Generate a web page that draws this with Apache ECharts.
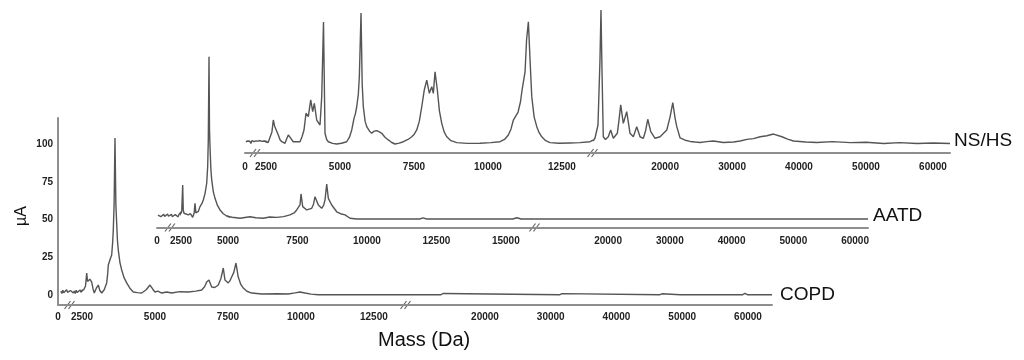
<!DOCTYPE html>
<html><head><meta charset="utf-8">
<script src="https://cdn.jsdelivr.net/npm/echarts@6.0.0/dist/echarts.min.js"></script>
<style>html,body{margin:0;padding:0;background:#fff}#c{width:1024px;height:360px}</style>
</head><body><div id="c"></div>
<script>
// ---- data: [mass (Da), intensity (µA)] ----
const copdLow = [[300,2.5],[400,1.0],[500,3.2],[600,1.5],[700,2.8],[800,0.9],[900,3.5],[1000,1.8],[1100,2.6],[1200,1.1],[1300,3.0],[1400,2.0],[1500,3.4],[1600,1.3],[1700,2.7],[1800,1.0],[1900,3.1],[2000,1.6],[2100,2.9],[2200,1.2],[2300,3.3],[2400,1.8],[2480,2.6],[2560,3.5],[2620,6.0],[2661,14.6],[2690,9.0],[2716,8.0],[2770,10.5],[2832,8.6],[2880,4.0],[2921,1.3],[2990,4.5],[3058,6.6],[3110,3.0],[3175,1.3],[3260,3.5],[3346,8.0],[3380,14.0],[3401,19.9],[3470,24.0],[3517,26.5],[3550,35.0],[3572,43.1],[3600,60.0],[3630,104.1],[3660,60.0],[3688,47.7],[3715,36.0],[3743,29.8],[3800,21.5],[3860,16.6],[3940,11.5],[4031,8.0],[4140,4.5],[4257,2.0],[4400,1.6],[4545,1.3],[4700,3.5],[4829,6.6],[4920,4.0],[5000,2.0],[5100,2.6],[5230,1.3],[5400,2.0],[5572,1.3],[5850,2.2],[6141,2.0],[6400,2.6],[6600,3.3],[6700,5.5],[6771,8.6],[6850,9.9],[6942,5.3],[7050,5.0],[7168,6.6],[7260,11.0],[7340,17.9],[7398,9.9],[7511,8.0],[7570,9.5],[7627,11.9],[7700,15.0],[7775,21.2],[7853,11.9],[7940,7.0],[8025,4.6],[8150,2.5],[8312,1.3],[8655,0.7],[9200,0.8],[9566,0.7],[9800,1.4],[9967,2.0],[10138,1.3],[10350,0.6],[10594,0.2],[13600,0.2]];
const copdHigh = [[7980,0.2],[13300,0.2],[13612,1.0],[13900,0.2],[31400,0.2],[31712,0.9],[32000,0.2],[46600,0.2],[46922,0.8],[47200,0.2],[49700,0.2],[49964,0.8],[50300,0.2],[59200,0.2],[59546,1.0],[59900,0.2],[63650,0.2]];
const aatdLow = [[100,2.5],[200,1.2],[300,3.0],[400,1.5],[500,2.8],[600,0.9],[700,3.2],[800,1.6],[900,2.7],[1000,1.0],[1100,3.3],[1200,1.8],[1300,2.9],[1400,1.2],[1500,3.1],[1600,1.5],[1700,2.6],[1800,1.0],[1900,3.0],[2000,1.7],[2100,2.9],[2200,1.4],[2300,3.2],[2400,2.0],[2537,4.8],[2590,22.5],[2620,6.0],[2660,3.8],[2760,5.0],[2888,2.7],[3000,3.5],[3122,1.1],[3200,4.0],[3245,10.4],[3290,4.0],[3335,2.7],[3420,5.0],[3511,8.2],[3600,10.0],[3686,12.6],[3780,17.0],[3867,23.7],[3920,35.0],[3952,52.4],[3990,107.6],[4015,60.0],[4043,47.9],[4090,33.0],[4133,25.9],[4220,18.0],[4309,13.7],[4440,9.0],[4575,6.0],[4750,3.5],[4931,2.0],[5150,1.2],[5432,0.5],[5792,1.5],[6000,0.8],[6271,0.5],[6500,1.3],[6753,1.1],[7000,1.6],[7232,2.7],[7380,4.0],[7473,6.0],[7592,9.3],[7628,16.6],[7689,8.2],[7833,6.0],[8013,7.1],[8080,10.0],[8132,14.8],[8251,9.3],[8373,7.1],[8440,9.0],[8492,12.6],[8553,23.2],[8611,13.7],[8733,9.3],[8913,4.8],[9050,3.5],[9212,2.7],[9392,0.5],[9633,0],[11900,0],[12020,0.7],[12150,0],[15250,0],[15400,0.8],[15550,0],[16050,0]];
const aatdHigh = [[8167,0],[12700,0],[12870,0.6],[13050,0],[23700,0],[23890,0.6],[24100,0],[39700,0],[39940,0.6],[40200,0],[62100,0]];
const nshsLow = [[100,1.5],[220,0.5],[340,2.0],[460,0.8],[580,1.8],[700,0.4],[820,2.2],[940,1.0],[1060,1.6],[1180,0.5],[1300,2.1],[1420,0.9],[1540,1.9],[1660,0.6],[1780,2.3],[1900,1.0],[2020,1.7],[2140,0.5],[2260,2.0],[2380,0.8],[2500,1.8],[2570,0.9],[2635,1.5],[2700,8.0],[2747,15.9],[2790,12.0],[2838,11.1],[2916,6.0],[2970,3.0],[3031,1.5],[3142,0.5],[3200,3.5],[3254,6.0],[3310,4.5],[3369,3.8],[3420,1.5],[3480,0.5],[3649,1.5],[3720,5.0],[3784,9.3],[3852,20.4],[3930,18.1],[4011,29.2],[4078,21.4],[4133,27.0],[4214,15.9],[4325,12.6],[4383,31.4],[4443,80.9],[4494,7.1],[4550,3.0],[4606,1.5],[4750,0.4],[4890,0],[5050,0.5],[5228,1.5],[5320,4.5],[5397,9.3],[5474,17.0],[5520,20.0],[5566,24.7],[5620,33.0],[5654,44.6],[5711,86.9],[5750,40.0],[5789,24.7],[5850,15.0],[5904,11.5],[6000,8.5],[6073,7.1],[6150,8.5],[6242,8.8],[6330,8.0],[6411,7.1],[6520,4.5],[6634,2.7],[6750,1.0],[6860,0],[7000,0.6],[7141,1.5],[7300,3.0],[7425,4.8],[7510,6.5],[7594,9.3],[7680,15.0],[7763,24.7],[7850,36.0],[7932,42.4],[8020,33.6],[8101,38.0],[8155,33.6],[8212,47.9],[8290,35.8],[8360,22.0],[8439,13.7],[8520,8.0],[8608,4.8],[8750,2.2],[8946,0.9],[9300,0.4],[9733,0.5],[10100,0.9],[10409,1.5],[10560,3.0],[10690,6.0],[10780,10.0],[10859,15.9],[11018,21.2],[11100,28.0],[11153,35.8],[11254,47.9],[11305,69],[11366,81.1],[11423,55.7],[11481,31.4],[11560,18.0],[11650,11.5],[11730,7.5],[11819,4.8],[11950,2.2],[12099,0.9],[12400,0.5],[12775,0.7],[13100,0.9],[13451,1.5],[13550,2.5]];
const nshsHigh = [[9240,2.0],[9535,3.8],[9984,12.6],[10282,55.7],[10432,88.9],[10581,49.1],[10776,4.8],[11100,3.0],[11523,4.8],[11882,9.3],[12271,3.8],[12869,7.1],[13100,15.0],[13377,25.9],[13766,13.7],[14274,21.4],[14767,7.1],[15261,4.8],[15769,11.5],[16263,4.8],[16756,3.8],[17100,9.0],[17414,16.4],[17862,8.2],[18505,3.8],[19253,4.8],[20254,9.3],[20750,18.0],[21151,27.4],[21500,17.0],[21749,11.5],[22243,4.0],[23000,2.5],[23738,1.7],[24500,1.3],[25233,1.0],[26200,1.6],[27221,2.0],[28700,1.0],[30211,1.3],[31200,2.0],[32214,3.1],[33200,3.6],[34203,4.8],[35200,5.5],[36191,6.6],[37447,4.8],[38300,3.2],[39181,2.0],[41000,1.3],[42680,1.0],[45000,1.6],[47658,0.9],[50000,1.2],[52636,0.3],[55000,0.9],[57629,0.3],[60000,0.7],[62540,0.3]];

// ---- tick labels ----
const zeroTick = [0];
const ticks2500 = [2500];
const copdLowTicks = [2500,5000,7500,10000,12500];
const aatdLowTicks = [5000,7500,10000,12500,15000];
const nshsLowTicks = [2500,5000,7500,10000,12500];
const highTicks = [20000,30000,40000,50000,60000];
const yTicks = [0,25,50,75,100];

// ---- layout ----
const K = 1.508; // px per µA
const FONT = '"Liberation Sans", Arial, sans-serif';
const LINE = '#555555';
const AXIS = '#8e8e8e';

const panels = [
  {name:'COPD', low:copdLow, high:copdHigh, zeroY:295, axisY:305, ymax:117.4, showY:true,
   segs:[{src:'low',min:0,max:2500,left:58,right:82,ticks:zeroTick},
         {src:'low',min:2500,max:13600,left:82,right:406,ticks:copdLowTicks},
         {src:'high',min:7980,max:63650,left:406,right:772,ticks:highTicks}],
   breaks:[[0,1250],[1,13600]], label:{x:780,y:296}, lm:7},
  {name:'AATD', low:aatdLow, high:aatdHigh, zeroY:219, axisY:227.5, ymax:112, showY:false,
   segs:[{src:'low',min:0,max:2500,left:157,right:181,ticks:zeroTick},
         {src:'low',min:2500,max:5000,left:181,right:228,ticks:ticks2500},
         {src:'low',min:5000,max:16050,left:228,right:535,ticks:aatdLowTicks},
         {src:'high',min:8167,max:62100,left:535,right:868,ticks:highTicks}],
   breaks:[[0,1400],[2,16050]], label:{x:873,y:217}, lm:9},
  {name:'NS/HS', low:nshsLow, high:nshsHigh, zeroY:144, axisY:153, ymax:95, showY:false,
   segs:[{src:'low',min:0,max:2500,left:245,right:266,ticks:zeroTick},
         {src:'low',min:2500,max:13550,left:266,right:593,ticks:nshsLowTicks},
         {src:'high',min:9240,max:62540,left:593,right:950,ticks:highTicks}],
   breaks:[[0,1250],[1,13550]], label:{x:954,y:142}, lm:9}
];

function sliceRange(arr, min, max){
  let a=-1,b=-1;
  arr.forEach((p,i)=>{ if(p[0]>=min && p[0]<=max){ if(a<0)a=i; b=i; } });
  if(a<0) return [];
  return arr.slice(Math.max(0,a-1), Math.min(arr.length,b+2));
}

const grid=[], xAxis=[], yAxis=[], series=[];
panels.forEach(p=>{
  const ymin = -(p.axisY - p.zeroY)/K;
  const top = p.zeroY - p.ymax*K;
  const height = (p.ymax - ymin)*K;
  p.segIdx = [];
  p.segs.forEach((s,j)=>{
    const gi = grid.length;
    p.segIdx.push(gi);
    grid.push({left:s.left, width:s.right-s.left, top:top, height:height, containLabel:false});
    xAxis.push({gridIndex:gi, type:'value', min:s.min, max:s.max,
      axisLine:{show:true, onZero:false, lineStyle:{color:AXIS, width:2}},
      axisTick:{show:false}, splitLine:{show:false},
      axisLabel:{show:true, customValues:s.ticks, formatter:v=>String(v), margin:p.lm,
        fontSize:10, fontWeight:'bold', color:'#222', fontFamily:FONT, showMinLabel:true, showMaxLabel:true}});
    const showY = p.showY && j===0;
    yAxis.push({gridIndex:gi, type:'value', min:ymin, max:p.ymax, show:showY,
      axisLine:{show:showY, onZero:false, lineStyle:{color:AXIS, width:2}},
      axisTick:{show:false}, splitLine:{show:false},
      axisLabel:{show:showY, customValues:yTicks, margin:5, fontSize:10, fontWeight:'bold', color:'#222', fontFamily:FONT}});
    series.push({type:'line', xAxisIndex:gi, yAxisIndex:gi, name:p.name,
      data:sliceRange(s.src==='low'?p.low:p.high, s.min, s.max),
      symbol:'none', showSymbol:false, clip:true, silent:true, animation:false,
      lineStyle:{color:LINE, width:1.4}});
  });
});

const chart = echarts.init(document.getElementById('c'), null, {renderer:'canvas'});
chart.setOption({animation:false, backgroundColor:'#fff', grid, xAxis, yAxis, series});

const graphic = [];
panels.forEach(p=>{
  p.breaks.forEach(([j,v])=>{
    const gi = p.segIdx[j];
    const x = chart.convertToPixel({xAxisIndex:gi}, v);
    const y = p.axisY;
    [-2.5,1.5].forEach(d=>{
      graphic.push({type:'line', silent:true, shape:{x1:x+d-3, y1:y+4, x2:x+d+3, y2:y-4},
        style:{stroke:'#6a6a6a', lineWidth:1.2}});
    });
  });
  graphic.push({type:'text', left:p.label.x, top:p.label.y-11, silent:true,
    style:{text:p.name, font:'19px '+FONT, fill:'#111'}});
});
graphic.push({type:'text', left:378, top:330, silent:true, style:{text:'Mass (Da)', font:'20px '+FONT, fill:'#111'}});
graphic.push({type:'text', x:14, y:226, rotation:Math.PI/2, silent:true,
  style:{text:'µA', font:'16px '+FONT, fill:'#111'}});
chart.setOption({graphic});
</script></body></html>
